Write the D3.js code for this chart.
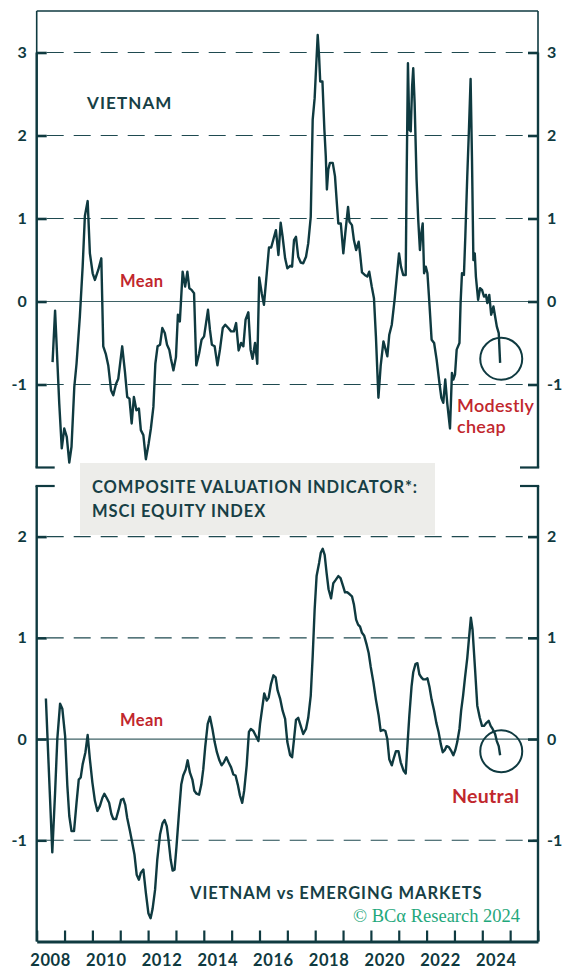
<!DOCTYPE html>
<html>
<head>
<meta charset="utf-8">
<script src="https://cdn.jsdelivr.net/npm/d3@7"></script>
<style>
  html, body { margin: 0; padding: 0; background: #ffffff; }
  svg { display: block; }
  text { font-family: Lato, "Open Sans", sans-serif; }
</style>
</head>
<body>
<svg id="chart" width="570" height="971"></svg>
<script>
// ---------------- DATA ----------------
const topYears = [2008.57,2008.66,2008.81,2008.90,2008.99,2009.08,2009.17,2009.25,2009.35,2009.43,2009.55,2009.65,2009.73,2009.83,2009.91,2010.01,2010.09,2010.21,2010.32,2010.39,2010.48,2010.57,2010.67,2010.75,2010.85,2010.93,2011.07,2011.17,2011.25,2011.33,2011.41,2011.49,2011.58,2011.67,2011.74,2011.83,2011.92,2012.02,2012.10,2012.19,2012.26,2012.34,2012.43,2012.51,2012.60,2012.68,2012.76,2012.82,2012.91,2013.00,2013.07,2013.14,2013.24,2013.33,2013.41,2013.48,2013.56,2013.65,2013.73,2013.83,2013.92,2014.01,2014.08,2014.15,2014.22,2014.29,2014.39,2014.49,2014.58,2014.68,2014.77,2014.88,2014.98,2015.08,2015.16,2015.25,2015.34,2015.42,2015.50,2015.60,2015.68,2015.75,2015.84,2015.92,2015.99,2016.08,2016.16,2016.26,2016.34,2016.42,2016.50,2016.59,2016.68,2016.76,2016.83,2016.92,2017.00,2017.10,2017.17,2017.24,2017.31,2017.39,2017.48,2017.57,2017.67,2017.75,2017.84,2017.91,2017.98,2018.04,2018.09,2018.14,2018.18,2018.26,2018.33,2018.38,2018.42,2018.47,2018.53,2018.63,2018.71,2018.77,2018.83,2018.92,2019.01,2019.08,2019.18,2019.23,2019.32,2019.39,2019.47,2019.56,2019.61,2019.68,2019.78,2019.87,2019.94,2020.03,2020.11,2020.18,2020.27,2020.35,2020.45,2020.53,2020.59,2020.66,2020.75,2020.85,2020.93,2021.01,2021.08,2021.16,2021.25,2021.28,2021.33,2021.38,2021.43,2021.48,2021.52,2021.57,2021.64,2021.70,2021.76,2021.81,2021.86,2021.91,2021.97,2022.03,2022.10,2022.18,2022.27,2022.36,2022.46,2022.53,2022.60,2022.67,2022.74,2022.84,2022.91,2022.96,2023.02,2023.08,2023.18,2023.22,2023.27,2023.34,2023.39,2023.46,2023.52,2023.58,2023.63,2023.68,2023.73,2023.77,2023.85,2023.92,2023.99,2024.06,2024.13,2024.18,2024.25,2024.32,2024.40,2024.46,2024.52,2024.59,2024.64];
const topValues = [-0.73,-0.11,-1.23,-1.77,-1.53,-1.63,-1.94,-1.75,-1.03,-0.75,-0.18,0.42,1.03,1.21,0.58,0.34,0.26,0.38,0.52,-0.54,-0.63,-0.77,-1.07,-1.13,-0.99,-0.93,-0.54,-0.85,-1.15,-1.17,-1.47,-1.15,-1.31,-1.29,-1.55,-1.61,-1.90,-1.71,-1.53,-1.27,-0.75,-0.54,-0.52,-0.32,-0.38,-0.52,-0.58,-0.69,-0.83,-0.67,-0.16,-0.24,0.36,0.18,0.36,0.16,0.14,0.10,-0.77,-0.63,-0.46,-0.42,-0.26,-0.10,-0.34,-0.52,-0.54,-0.77,-0.58,-0.32,-0.28,-0.32,-0.36,-0.36,-0.26,-0.59,-0.50,-0.54,-0.22,-0.13,-0.58,-0.69,-0.50,-0.75,0.29,0.10,-0.04,0.34,0.65,0.65,0.75,0.86,0.56,0.95,0.78,0.52,0.40,0.43,0.42,0.74,0.78,0.54,0.47,0.46,0.54,0.70,1.02,2.19,2.45,2.87,3.21,2.95,2.65,2.65,2.07,1.75,1.35,1.59,1.67,1.67,1.51,1.22,0.94,0.94,0.58,0.82,1.14,0.96,0.92,0.74,0.62,0.72,0.58,0.35,0.32,0.30,0.36,0.18,0.04,-0.42,-1.16,-0.78,-0.48,-0.58,-0.66,-0.40,-0.28,0.02,0.30,0.58,0.42,0.32,0.32,1.39,2.87,2.07,2.05,2.59,2.81,2.39,1.47,0.98,0.62,0.82,0.94,0.34,0.42,0.34,-0.02,-0.46,-0.50,-0.70,-0.98,-1.16,-1.22,-0.94,-1.22,-1.53,-0.86,-0.94,-0.88,-0.58,-0.50,-0.02,0.34,0.32,0.78,1.51,2.07,2.68,1.71,0.50,0.58,0.30,0.02,0.16,0.14,0.06,0.08,-0.02,0.08,-0.16,-0.06,-0.18,-0.30,-0.38,-0.74];

const botYears = [2008.33,2008.45,2008.56,2008.66,2008.74,2008.84,2008.92,2009.02,2009.10,2009.17,2009.25,2009.34,2009.43,2009.51,2009.58,2009.65,2009.75,2009.83,2009.91,2010.00,2010.09,2010.18,2010.27,2010.36,2010.43,2010.51,2010.60,2010.68,2010.75,2010.85,2010.93,2011.03,2011.11,2011.18,2011.25,2011.35,2011.42,2011.51,2011.59,2011.67,2011.74,2011.83,2011.92,2012.01,2012.09,2012.16,2012.25,2012.33,2012.43,2012.52,2012.59,2012.67,2012.73,2012.81,2012.88,2012.95,2013.02,2013.12,2013.19,2013.26,2013.35,2013.42,2013.50,2013.59,2013.66,2013.74,2013.83,2013.91,2013.98,2014.05,2014.14,2014.22,2014.31,2014.39,2014.47,2014.56,2014.64,2014.72,2014.81,2014.89,2014.98,2015.06,2015.14,2015.22,2015.30,2015.38,2015.45,2015.54,2015.62,2015.69,2015.78,2015.87,2015.96,2016.02,2016.10,2016.17,2016.26,2016.33,2016.41,2016.50,2016.58,2016.65,2016.74,2016.83,2016.92,2017.00,2017.10,2017.17,2017.24,2017.31,2017.39,2017.48,2017.57,2017.67,2017.75,2017.84,2017.91,2017.98,2018.05,2018.14,2018.20,2018.27,2018.34,2018.41,2018.48,2018.57,2018.65,2018.73,2018.83,2018.91,2018.99,2019.07,2019.15,2019.24,2019.32,2019.39,2019.47,2019.54,2019.61,2019.68,2019.76,2019.85,2019.92,2019.99,2020.09,2020.18,2020.28,2020.35,2020.45,2020.52,2020.59,2020.66,2020.75,2020.83,2020.90,2020.99,2021.07,2021.17,2021.25,2021.31,2021.38,2021.46,2021.52,2021.60,2021.67,2021.74,2021.81,2021.88,2021.97,2022.03,2022.10,2022.18,2022.27,2022.35,2022.43,2022.51,2022.58,2022.65,2022.72,2022.80,2022.89,2022.96,2023.03,2023.10,2023.18,2023.24,2023.31,2023.38,2023.46,2023.53,2023.59,2023.65,2023.74,2023.82,2023.91,2023.99,2024.06,2024.15,2024.23,2024.30,2024.37,2024.46,2024.52,2024.59,2024.64];
const botValues = [0.40,-0.40,-1.12,-0.53,0.00,0.35,0.30,0.03,-0.46,-0.76,-0.91,-0.91,-0.63,-0.40,-0.38,-0.25,-0.13,0.04,-0.20,-0.43,-0.61,-0.71,-0.66,-0.58,-0.54,-0.58,-0.63,-0.74,-0.79,-0.79,-0.71,-0.60,-0.59,-0.65,-0.78,-0.91,-1.01,-1.14,-1.34,-1.39,-1.32,-1.29,-1.52,-1.72,-1.77,-1.68,-1.49,-1.19,-0.94,-0.83,-0.80,-0.86,-0.99,-1.19,-1.30,-1.29,-1.06,-0.69,-0.45,-0.36,-0.30,-0.21,-0.33,-0.40,-0.51,-0.54,-0.55,-0.45,-0.30,-0.08,0.15,0.22,0.10,-0.03,-0.13,-0.21,-0.26,-0.23,-0.18,-0.23,-0.28,-0.35,-0.36,-0.45,-0.56,-0.63,-0.51,-0.26,0.07,0.10,0.08,0.03,-0.02,0.15,0.31,0.45,0.38,0.41,0.54,0.63,0.61,0.48,0.40,0.28,0.20,-0.03,-0.16,-0.18,0.00,0.19,0.21,0.13,0.05,0.10,0.21,0.43,0.82,1.28,1.61,1.74,1.84,1.88,1.82,1.64,1.48,1.39,1.54,1.57,1.61,1.59,1.52,1.45,1.45,1.43,1.41,1.33,1.18,1.13,1.11,1.05,1.02,0.93,0.85,0.72,0.56,0.39,0.23,0.08,0.09,0.08,0.00,-0.20,-0.26,-0.18,-0.12,-0.12,-0.23,-0.31,-0.34,-0.07,0.23,0.52,0.66,0.74,0.75,0.64,0.61,0.59,0.59,0.60,0.52,0.39,0.28,0.16,0.07,-0.05,-0.13,-0.11,-0.07,-0.08,-0.12,-0.16,-0.11,-0.03,0.10,0.28,0.43,0.61,0.80,1.02,1.20,1.08,0.69,0.33,0.21,0.13,0.13,0.16,0.18,0.13,0.10,0.05,-0.02,-0.07,-0.16];

const topTicks = [3, 2, 1, 0, -1];
const botTicks = [2, 1, 0, -1];
const yearTicks = [2008,2009,2010,2011,2012,2013,2014,2015,2016,2017,2018,2019,2020,2021,2022,2023,2024,2025,2026];
const yearLabels = ["2008","2010","2012","2014","2016","2018","2020","2022","2024"];
const circleMarks = [{panel: "top", year: 2024.68, value: -0.69}, {panel: "bot", year: 2024.68, value: -0.12}];

// ---------------- STYLE ----------------
const DARK = "#0f3a40";
const GRID = "#1f4a50";
const RED = "#c1272d";
const GREEN = "#1fa87c";
const BOX = "#ededea";

const svg = d3.select("#chart");
const L = 36.7, R = 538;
const x = d3.scaleLinear().domain([2008, 2026]).range([L, R]);
const yTop = d3.scaleLinear().domain([-2, 3.5]).range([467.5, 11]);
const yBot = d3.scaleLinear().domain([-2, 2.5]).range([941.5, 486]);

// ---------- grid lines ----------
function grid(yScale, ticks) {
  const g = svg.append("g");
  ticks.forEach(t => {
    g.append("line")
      .attr("x1", L).attr("x2", R)
      .attr("y1", yScale(t)).attr("y2", yScale(t))
      .attr("stroke", t === 0 ? "#3f6266" : GRID)
      .attr("stroke-width", t === 0 ? 1.2 : 1.1)
      .attr("stroke-dasharray", t === 0 ? null : "17,10")
      .attr("stroke-dashoffset", -10);
  });
}

// gray title box
svg.append("rect").attr("x", 80).attr("y", 463).attr("width", 355).attr("height", 72).attr("fill", BOX);

grid(yTop, topTicks);
grid(yBot, botTicks);

// ---------- y axes ----------
function yAxes(yScale, ticks) {
  const left = svg.append("g").attr("transform", `translate(${L},0)`)
    .call(d3.axisLeft(yScale).tickValues(ticks).tickSize(-10).tickSizeOuter(0).tickPadding(10).tickFormat(d3.format("d")));
  const right = svg.append("g").attr("transform", `translate(${R},0)`)
    .call(d3.axisRight(yScale).tickValues(ticks).tickSize(-10).tickSizeOuter(0).tickPadding(9).tickFormat(d3.format("d")));
  [left, right].forEach(a => {
    a.select(".domain").remove();
    a.selectAll(".tick line").attr("stroke", DARK).attr("stroke-width", 2.6);
    a.selectAll(".tick text").attr("fill", DARK).style("font-size", "16px").style("font-weight", 700)
      .style("font-family", "Lato, sans-serif").text(d => d < 0 ? "-" + Math.abs(d) : d);
  });
}
yAxes(yTop, topTicks);
yAxes(yBot, botTicks);

// ---------- frames ----------
const fr = svg.append("g").attr("stroke", DARK).attr("fill", "none");
// top panel
fr.append("line").attr("x1", L).attr("x2", R).attr("y1", yTop(3.5)).attr("y2", yTop(3.5)).attr("stroke-width", 1.6);
fr.append("line").attr("x1", L).attr("x2", L).attr("y1", yTop(3.5)).attr("y2", yTop(-2)).attr("stroke-width", 1.6);
fr.append("line").attr("x1", R).attr("x2", R).attr("y1", yTop(3.5)).attr("y2", yTop(-2)).attr("stroke-width", 1.6);
fr.append("line").attr("x1", L).attr("x2", L).attr("y1", yTop(3)).attr("y2", yTop(-2)).attr("stroke-width", 2.4);
fr.append("line").attr("x1", R).attr("x2", R).attr("y1", yTop(3)).attr("y2", yTop(-2)).attr("stroke-width", 2.4);
fr.append("line").attr("x1", L - 1.2).attr("x2", L + 18).attr("y1", yTop(-2)).attr("y2", yTop(-2)).attr("stroke-width", 2.2);
fr.append("line").attr("x1", R - 18).attr("x2", R + 1.2).attr("y1", yTop(-2)).attr("y2", yTop(-2)).attr("stroke-width", 2.2);
// bottom panel
fr.append("line").attr("x1", L).attr("x2", L).attr("y1", yBot(2.5)).attr("y2", yBot(-2)).attr("stroke-width", 2.4);
fr.append("line").attr("x1", R).attr("x2", R).attr("y1", yBot(2.5)).attr("y2", yBot(-2)).attr("stroke-width", 2.4);
fr.append("line").attr("x1", L - 1.2).attr("x2", L + 18).attr("y1", yBot(2.5)).attr("y2", yBot(2.5)).attr("stroke-width", 2.2);
fr.append("line").attr("x1", R - 18).attr("x2", R + 1.2).attr("y1", yBot(2.5)).attr("y2", yBot(2.5)).attr("stroke-width", 2.2);

// ---------- x axis ----------
const xa = svg.append("g").attr("transform", `translate(0,${yBot(-2)})`)
  .call(d3.axisBottom(x).tickValues(yearTicks).tickSize(-11).tickSizeOuter(0).tickFormat(""));
xa.select(".domain").attr("stroke", DARK).attr("stroke-width", 2.8);
xa.selectAll(".tick line").attr("stroke", DARK).attr("stroke-width", 2.2);

svg.append("g").selectAll("text").data(yearLabels).join("text")
  .attr("x", d => x(+d + 0.5)).attr("y", 966)
  .attr("text-anchor", "middle").attr("fill", DARK)
  .style("font-size", "16.5px").style("font-weight", 700).style("letter-spacing", "0.6px")
  .text(d => d);

// ---------- lines ----------
const topData = topYears.map((d, i) => [d, topValues[i]]);
const botData = botYears.map((d, i) => [d, botValues[i]]);
svg.append("path").datum(topData)
  .attr("d", d3.line().x(d => x(d[0])).y(d => yTop(d[1])))
  .attr("fill", "none").attr("stroke", DARK).attr("stroke-width", 2.4).attr("stroke-linejoin", "round");
svg.append("path").datum(botData)
  .attr("d", d3.line().x(d => x(d[0])).y(d => yBot(d[1])))
  .attr("fill", "none").attr("stroke", DARK).attr("stroke-width", 2.4).attr("stroke-linejoin", "round");

// ---------- circles ----------
svg.append("g").selectAll("circle").data(circleMarks).join("circle")
  .attr("cx", d => x(d.year))
  .attr("cy", d => d.panel === "top" ? yTop(d.value) : yBot(d.value))
  .attr("r", 21).attr("fill", "none").attr("stroke", DARK).attr("stroke-width", 2);

// ---------- texts ----------
function txt(s, xx, yy, size, color, weight, extra) {
  const t = svg.append("text").attr("x", xx).attr("y", yy).attr("fill", color)
    .style("font-size", size + "px").style("font-weight", weight).text(s);
  if (extra) extra(t);
  return t;
}
txt("VIETNAM", 87, 109, 17, "#173f45", 700, t => t.style("letter-spacing", "1.1px"));
txt("Mean", 120, 287, 16.5, RED, 700, t => t.style("letter-spacing", "0.4px"));
txt("Mean", 120, 726, 16.5, RED, 700, t => t.style("letter-spacing", "0.4px"));
txt("Modestly", 457, 412, 18, RED, 600, t => t.style("letter-spacing", "0.3px"));
txt("cheap", 457, 433, 18, RED, 600, t => t.style("letter-spacing", "0.3px"));
txt("Neutral", 452, 803, 19.5, RED, 700, t => t.style("letter-spacing", "0.3px"));
txt("COMPOSITE VALUATION INDICATOR*:", 92, 493, 16.5, "#173f45", 700, t => t.style("letter-spacing", "0.9px"));
txt("MSCI EQUITY INDEX", 92, 517, 16.5, "#173f45", 700, t => t.style("letter-spacing", "0.9px"));
txt("VIETNAM vs EMERGING MARKETS", 190, 899, 16.5, "#173f45", 700, t => t.style("letter-spacing", "0.95px"));
txt("© BCα Research 2024", 353, 922, 18.5, GREEN, 400, t => t.style("font-family", "'Liberation Serif', 'DejaVu Serif', serif"));
</script>
</body>
</html>
